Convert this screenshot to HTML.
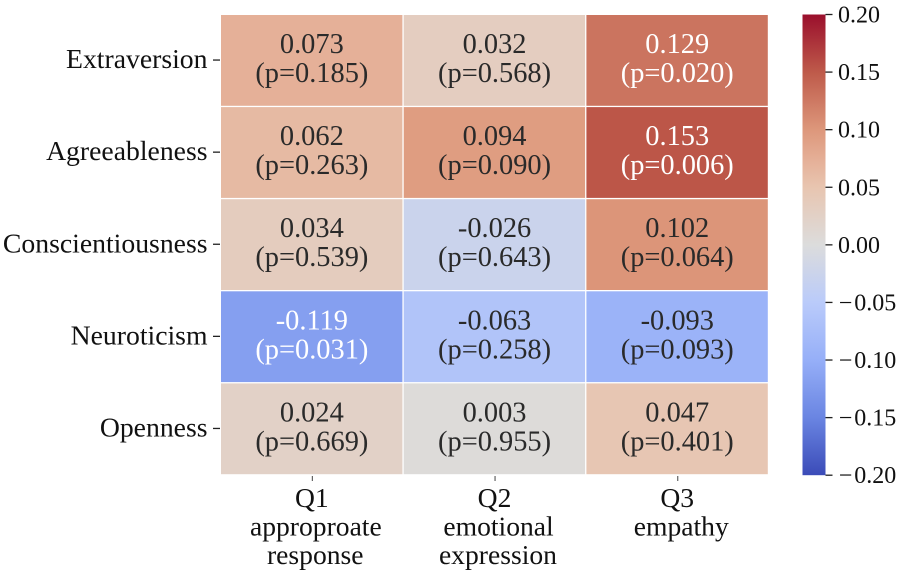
<!DOCTYPE html>
<html lang="en">
<head>
<meta charset="utf-8">
<title>Personality correlation heatmap</title>
<style>
html,body{margin:0;padding:0;background:#fff;}
svg{display:block;font-family:"Liberation Serif",serif;}
</style>
</head>
<body>
<svg id="chart" xmlns="http://www.w3.org/2000/svg" width="902" height="575" viewBox="0 0 902 575">
<defs>
<linearGradient id="cbar-gradient" x1="0" y1="1" x2="0" y2="0"></linearGradient>
</defs>
<rect x="0" y="0" width="902" height="575" fill="#ffffff"></rect>
</svg>
<script>
const traits = ["Extraversion", "Agreeableness", "Conscientiousness", "Neuroticism", "Openness"];
const questionIds = ["Q1", "Q2", "Q3"];
const questionLine1 = ["approproate", "emotional", "empathy"];
const questionLine2 = ["response", "expression", ""];
const corrQ1 = [0.073, 0.062, 0.034, -0.119, 0.024];
const corrQ2 = [0.032, 0.094, -0.026, -0.063, 0.003];
const corrQ3 = [0.129, 0.153, 0.102, -0.093, 0.047];
const pQ1 = ["0.185", "0.263", "0.539", "0.031", "0.669"];
const pQ2 = ["0.568", "0.090", "0.643", "0.258", "0.955"];
const pQ3 = ["0.020", "0.006", "0.064", "0.093", "0.401"];
const colorbarTicks = [0.20, 0.15, 0.10, 0.05, 0.00, -0.05, -0.10, -0.15, -0.20];

const corrByColumn = [corrQ1, corrQ2, corrQ3];
const pByColumn = [pQ1, pQ2, pQ3];

const NS = "http://www.w3.org/2000/svg";
const svg = document.getElementById("chart");
const vMin = -0.2, vMax = 0.2;
const plotLeft = 221, plotRight = 769.1, plotTop = 15, plotBottom = 475.5;
const cbLeft = 802.5, cbRight = 825.5, cbTop = 14.5, cbBottom = 475.2;
const gap = 1.3;
const ramp = [
  [0, [59, 75, 184]], [0.125, [106, 133, 226]], [0.25, [150, 175, 248]], [0.375, [186, 203, 250]],
  [0.5, [220, 220, 220]], [0.625, [232, 197, 176]], [0.6825, [229, 176, 152]], [0.75, [221, 151, 123]],
  [0.875, [190, 90, 74]], [1, [154, 15, 44]]
];
function colorOf(v) {
  const t = Math.max(0, Math.min(1, (v - vMin) / (vMax - vMin)));
  for (let i = 1; i < ramp.length; i++) {
    if (t <= ramp[i][0]) {
      const a = ramp[i - 1], b = ramp[i], f = (t - a[0]) / (b[0] - a[0]);
      const c = a[1].map((x, k) => Math.round(x + (b[1][k] - x) * f));
      return "rgb(" + c.join(",") + ")";
    }
  }
  return "rgb(154,15,44)";
}
function xScale(i) { return plotLeft + i * (plotRight - plotLeft) / questionIds.length; }
function yScale(i) { return plotTop + i * (plotBottom - plotTop) / traits.length; }
function cbScale(v) { return cbBottom - (v - vMin) / (vMax - vMin) * (cbBottom - cbTop); }
function make(tag, attrs, text) {
  const el = document.createElementNS(NS, tag);
  for (const k in attrs) el.setAttribute(k, attrs[k]);
  if (text !== undefined) el.textContent = text;
  svg.appendChild(el);
  return el;
}
const cellW = (plotRight - plotLeft) / questionIds.length;
const cellH = (plotBottom - plotTop) / traits.length;

traits.forEach(function (trait, r) {
  questionIds.forEach(function (q, c) {
    const v = corrByColumn[c][r];
    const rect = make("rect", {x: xScale(c), y: yScale(r), width: cellW - gap, height: cellH - gap, fill: colorOf(v)});
    
    
    const fill = Math.abs(v) >= 0.11 ? "#ffffff" : "#2a2a2a";
    const cx = xScale(c) + cellW / 2 - 0.5;
    const t1 = make("text", {x: cx, y: yScale(r) + 38, "text-anchor": "middle", "font-size": 28.4, fill: fill}, v.toFixed(3));
    
    
    const t2 = make("text", {x: cx, y: yScale(r) + 67, "text-anchor": "middle", "font-size": 28.4, fill: fill}, "(p=" + pByColumn[c][r] + ")");
    
    
  });
  const cy = yScale(r) + cellH / 2 - 1;
  const tick = make("line", {x1: 213, x2: 220, y1: cy, y2: cy, stroke: "#222", "stroke-width": 1.3});
  
  
  const label = make("text", {x: 207.5, y: cy + 8, "text-anchor": "end", "font-size": 27.7, fill: "#111"}, trait);
  
  
});

questionIds.forEach(function (q, c) {
  const cx = xScale(c) + cellW / 2 - 0.5;
  const tick = make("line", {x1: cx + 0.5, x2: cx + 0.5, y1: 476, y2: 481, stroke: "#555", "stroke-width": 1.1});
  
  
  const l0 = make("text", {x: cx, y: 507, "text-anchor": "middle", "font-size": 27.6, fill: "#111"}, q);
  
  
  const l1 = make("text", {x: cx + 4, y: 535.5, "text-anchor": "middle", "font-size": 27.6, fill: "#111"}, questionLine1[c]);
  
  
  if (questionLine2[c]) {
    const l2 = make("text", {x: cx + 3.4, y: 564, "text-anchor": "middle", "font-size": 27.6, fill: "#111"}, questionLine2[c]);
    
    
  }
});

const grad = document.getElementById("cbar-gradient");
ramp.forEach(function (s) {
  const st = document.createElementNS(NS, "stop");
  st.setAttribute("offset", s[0]);
  st.setAttribute("stop-color", "rgb(" + s[1].join(",") + ")");
  grad.appendChild(st);
});
const cbar = make("rect", {x: cbLeft, y: cbTop, width: cbRight - cbLeft, height: cbBottom - cbTop, fill: "url(#cbar-gradient)"});


colorbarTicks.forEach(function (v) {
  const y = cbScale(v);
  const tick = make("line", {x1: cbRight, x2: cbRight + 7, y1: y, y2: y, stroke: "#222", "stroke-width": 1.3});
  
  
  const label = make("text", {x: v < 0 ? 838.7 : 838, y: y + 8, "font-size": 24, fill: "#111"});
  
  
  if (v < 0) {
    const minus = document.createElementNS(NS, "tspan");
    minus.textContent = "\u2212";
    label.appendChild(minus);
    const digits = document.createElementNS(NS, "tspan");
    digits.setAttribute("dx", "2");
    digits.textContent = Math.abs(v).toFixed(2);
    label.appendChild(digits);
  } else {
    label.textContent = v.toFixed(2);
  }
});
</script>
</body>
</html>
